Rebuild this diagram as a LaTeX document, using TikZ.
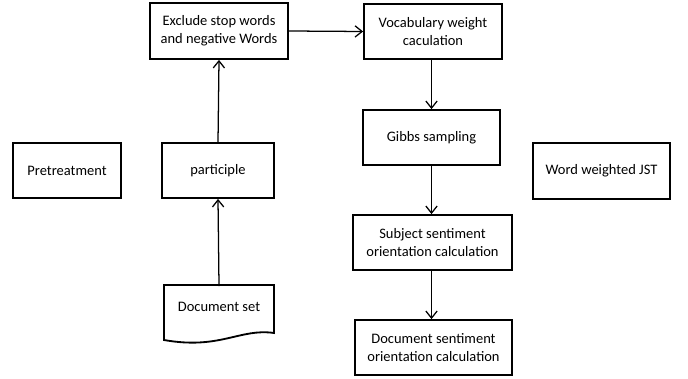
\documentclass[tikz,border=0pt]{standalone}
\usepackage{fontspec}
\setmainfont{Carlito}
\usetikzlibrary{arrows.meta}

\begin{document}
\begin{tikzpicture}[x=0.025cm,y=-0.025cm,
    box/.style={draw, line width=1.3pt, align=center, inner sep=0pt,
        font=\fontsize{10.3}{12.5}\selectfont},
    flow/.style={-{Straight Barb[length=5pt,width=8pt]}, line width=0.9pt}]
            \useasboundingbox (0,0) rectangle (688,379);
            \node[box, minimum width=108*0.025cm, minimum height=55*0.025cm] (pre) at (67,170.5) {Pretreatment};
            \node[box, minimum width=112*0.025cm, minimum height=55*0.025cm] (part) at (218,170.5) {participle};
            \node[box, minimum width=138*0.025cm, minimum height=56*0.025cm] (excl) at (219,31) {Exclude stop words\\and negative Words};
            \node[box, minimum width=138*0.025cm, minimum height=55*0.025cm] (vocab) at (433,31.5) {Vocabulary weight\\caculation};
            \node[box, minimum width=137*0.025cm, minimum height=55*0.025cm] (gibbs) at (431.5,137.5) {Gibbs sampling};
            \node[box, minimum width=137*0.025cm, minimum height=56*0.025cm] (jst) at (601.5,171) {Word weighted JST};
            \node[box, minimum width=159*0.025cm, minimum height=55*0.025cm] (subj) at (432.5,242.5) {Subject sentiment\\orientation calculation};
            \node[box, minimum width=157*0.025cm, minimum height=55*0.025cm] (docs) at (433.5,347.5) {Document sentiment\\orientation calculation};
            \node[box, draw=none, minimum width=110*0.025cm, minimum height=40*0.025cm] (docset) at (219,307) {Document set};
            \draw[line width=1.3pt] (164,337) -- (164,285) -- (274,285) -- (274,333)
                .. controls (240,328) and (220,350) .. (164,340) -- (164,337);
            \draw[flow] (docset.north) -- (part.south);
            \draw[flow] (part.north) -- (excl.south);
            \draw[flow] (excl.east) -- (vocab.west);
            \draw[flow] (vocab.south -| gibbs.north) -- (gibbs.north);
            \draw[flow] (gibbs.south) -- (subj.north -| gibbs.south);
            \draw[flow] (subj.south -| gibbs.south) -- (docs.north -| gibbs.south);
        \end{tikzpicture}
\end{document}
